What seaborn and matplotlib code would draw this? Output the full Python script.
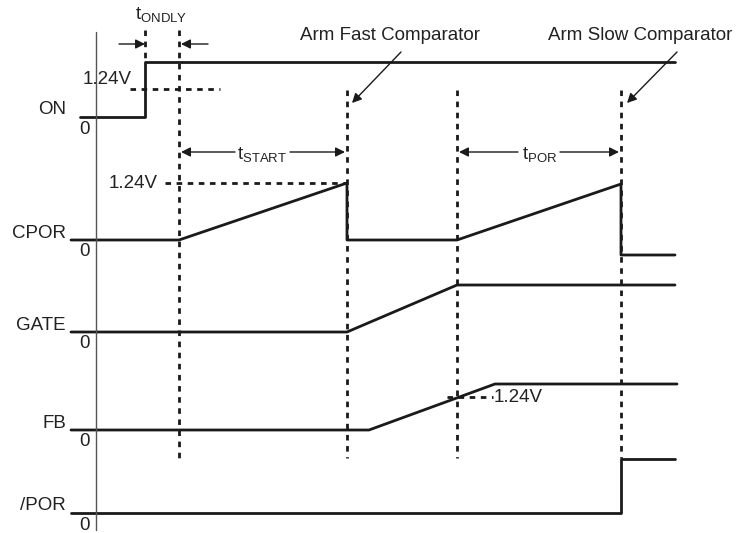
import matplotlib
matplotlib.use("Agg")
import matplotlib.pyplot as plt
import pandas as pd
import seaborn as sns

# time axis (arbitrary units, 0 = reference axis) and signal levels (height above each row's zero)
signal_names = ["ON", "CPOR", "GATE", "FB", "/POR"]
row_zero = [117, 240, 332, 430, 513]

on_t = [-16, 49, 49, 579]
on_v = [0, 0, 55, 55]
cpor_t = [-25, 83, 251, 251, 361, 525, 525, 579]
cpor_v = [0, 0, 57, 0, 0, 56, -15, -15]
gate_t = [-25, 251, 361, 579]
gate_v = [0, 0, 47, 47]
fb_t = [-25, 273, 399, 581]
fb_v = [0, 0, 46, 46]
por_t = [-25, 525, 525, 579]
por_v = [0, 0, 54, 54]

# event markers
t_ondly = [49, 83]
t_fast = 251
t_por_start = 361
t_slow = 525

sns.set_style("white")
plt.rcParams["font.family"] = ["Liberation Sans", "DejaVu Sans"]
plt.rcParams["mathtext.fontset"] = "custom"
plt.rcParams["mathtext.rm"] = "Liberation Sans"

fig = plt.figure(figsize=(7.36, 5.33), dpi=100)
ax = fig.add_axes([0, 0, 1, 1])
ax.set_xlim(-96, 640)
ax.set_ylim(533, 0)
ax.axis("off")

txt = "#222222"
waves = [(on_t, on_v), (cpor_t, cpor_v), (gate_t, gate_v), (fb_t, fb_v), (por_t, por_v)]
for name, base, (tt, vv) in zip(signal_names, row_zero, waves):
    df = pd.DataFrame({"t": tt, "y": [base - v for v in vv]})
    sns.lineplot(data=df, x="t", y="y", sort=False, color="#1a1a1a", lw=2.0, ax=ax, estimator=None)
    ax.text(-30, base - 7, name, ha="right", va="center", fontsize=13.5, color=txt)
    ax.text(-11, base + 12, "0", ha="center", va="center", fontsize=13.5, color=txt)

# vertical reference axis
ax.plot([0, 0], [32, 530], color="#555555", lw=1.0)

dash = dict(color="#1a1a1a", lw=2.0, dashes=(2, 2))
ax.plot([t_ondly[0]] * 2, [30, 62], **dash)
ax.plot([t_ondly[1]] * 2, [30, 458], **dash)
for t in [t_fast, t_por_start, t_slow]:
    ax.plot([t, t], [90, 458], **dash)

# 1.24V thresholds
ax.plot([34, 124], [89, 89], **dash)
ax.text(36, 80, "1.24V", ha="right", va="center", fontsize=13.5, color=txt)
ax.plot([69, t_fast], [183, 183], **dash)
ax.text(62, 183, "1.24V", ha="right", va="center", fontsize=13.5, color=txt)
ax.plot([351, 397], [397, 397], **dash)
ax.text(398, 398, "1.24V", ha="left", va="center", fontsize=13.5, color=txt)

arr = dict(arrowstyle="-|>", color="#1a1a1a", lw=1.0, mutation_scale=14, shrinkA=0, shrinkB=0)
# tONDLY
ax.annotate("", xy=(t_ondly[0], 44), xytext=(23, 44), arrowprops=arr)
ax.annotate("", xy=(t_ondly[1] + 2, 44), xytext=(112, 44), arrowprops=arr)
ax.text(65, 15, r"$\mathrm{t}_{\mathrm{ONDLY}}$", ha="center", va="center", fontsize=13.5, color=txt)
# tSTART
ax.annotate("", xy=(t_ondly[1] + 2, 152), xytext=(139, 152), arrowprops=arr)
ax.annotate("", xy=(t_fast - 2, 152), xytext=(194, 152), arrowprops=arr)
ax.text(166, 155, r"$\mathrm{t}_{\mathrm{START}}$", ha="center", va="center", fontsize=13.5, color=txt)
# tPOR
ax.annotate("", xy=(t_por_start + 2, 152), xytext=(422, 152), arrowprops=arr)
ax.annotate("", xy=(t_slow - 2, 152), xytext=(464, 152), arrowprops=arr)
ax.text(444, 155, r"$\mathrm{t}_{\mathrm{POR}}$", ha="center", va="center", fontsize=13.5, color=txt)

# comparator callouts
ax.text(294, 35, "Arm Fast Comparator", ha="center", va="center", fontsize=13.5, color=txt)
ax.annotate("", xy=(256, 103), xytext=(305, 52), arrowprops=arr)
ax.text(544, 35, "Arm Slow Comparator", ha="center", va="center", fontsize=13.5, color=txt)
ax.annotate("", xy=(531, 103), xytext=(581, 52), arrowprops=arr)

fig.savefig("out.png", dpi=100)
